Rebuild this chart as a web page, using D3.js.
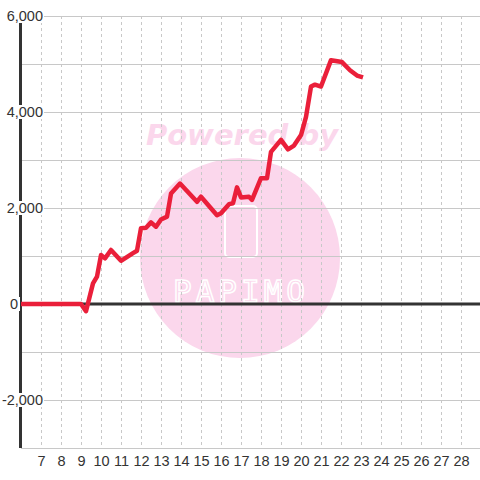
<!DOCTYPE html>
<html>
<head>
<meta charset="utf-8">
<script src="https://cdn.jsdelivr.net/npm/d3@7/dist/d3.min.js"></script>
<style>
  body { margin: 0; background: #fff; }
  text { font-family: "Liberation Sans", Arial, sans-serif; }
</style>
</head>
<body>
<div id="chart"></div>
<script>
var w = 480;
var h = 480;

// hours and cumulative values
var hours = [6, 9, 9.25, 9.6, 9.8, 10, 10.2, 10.5, 11, 11.6, 11.8, 12, 12.25, 12.5, 12.75, 13, 13.3, 13.5, 13.95,
             14.8, 15, 15.8, 16, 16.4, 16.6, 16.8, 17, 17.4, 17.55, 18, 18.3, 18.5, 19, 19.35, 19.65, 20, 20.25,
             20.5, 20.7, 21, 21.5, 22.05, 22.45, 22.8, 23.1];
var values = [0, 0, -150, 430, 570, 1020, 950, 1125, 900, 1060, 1110, 1580, 1590, 1700, 1610, 1760, 1820, 2300, 2510,
              2130, 2235, 1850, 1890, 2080, 2100, 2430, 2220, 2235, 2170, 2620, 2620, 3170, 3420, 3220, 3300, 3520, 3900,
              4530, 4570, 4530, 5080, 5040, 4870, 4760, 4720];

var xTicks = d3.range(7, 29);
var yGrid = d3.range(-3000, 6001, 1000);
var yLabels = [6000, 4000, 2000, 0, -2000];

var svg = d3.select('#chart')
            .append('svg')
            .attr('width', w)
            .attr('height', h);

var x = d3.scaleLinear().domain([6, 29]).range([21, 481]);
var y = d3.scaleLinear().domain([-3000, 6000]).range([448, 16]);

// watermark
var wm = svg.append('g');
wm.append('circle')
  .attr('cx', 240).attr('cy', 258).attr('r', 100)
  .style('fill', '#fbd7ec');
wm.append('text')
  .attr('x', 242).attr('y', 145)
  .attr('text-anchor', 'middle')
  .style('font-family', '"DejaVu Sans", sans-serif')
  .style('font-size', '29px')
  .style('font-weight', 'bold')
  .style('font-style', 'italic')
  .style('fill', '#fbd7ec')
  .text('Powered by');
wm.append('rect')
  .attr('x', 225).attr('y', 206).attr('width', 32).attr('height', 51).attr('rx', 4)
  .style('fill', 'none')
  .style('stroke', '#fff')
  .style('stroke-width', 2);
wm.append('text')
  .attr('x', 241).attr('y', 302)
  .attr('text-anchor', 'middle')
  .style('font-family', '"DejaVu Sans Mono", monospace')
  .style('font-size', '31px')
  .style('letter-spacing', '4px')
  .style('fill', 'none')
  .style('stroke', '#fff')
  .style('stroke-width', 1.5)
  .text('PAPIMO');

// grid
svg.append('g').selectAll('line')
   .data(xTicks)
   .enter()
   .append('line')
   .attr('x1', function(d) { return x(d) + 0.5; })
   .attr('x2', function(d) { return x(d) + 0.5; })
   .attr('y1', 16).attr('y2', 448)
   .style('stroke', '#c8c8c8')
   .style('stroke-dasharray', '3,3');

svg.append('g').selectAll('line')
   .data(yGrid)
   .enter()
   .append('line')
   .attr('x1', 21).attr('x2', w)
   .attr('y1', function(d) { return y(d) + 0.5; })
   .attr('y2', function(d) { return y(d) + 0.5; })
   .style('stroke', '#c8c8c8');

// axes
svg.append('line')
   .attr('x1', 20.5).attr('x2', 20.5)
   .attr('y1', y(6000)).attr('y2', y(-3000))
   .style('stroke', '#333')
   .style('stroke-width', 3);

svg.append('line')
   .attr('x1', 21).attr('x2', w)
   .attr('y1', y(0)).attr('y2', y(0))
   .style('stroke', '#333')
   .style('stroke-width', 3);

// y labels with white boxes behind
var fmt = function(d) { return d3.format(',')(d).replace('\u2212', '-'); };
var yl = svg.append('g').selectAll('g')
   .data(yLabels)
   .enter()
   .append('g')
   .attr('transform', function(d) { return 'translate(0,' + y(d) + ')'; });
yl.append('rect')
  .attr('x', function(d) { return d === 0 ? 4 : 0; })
  .attr('y', -7)
  .attr('width', function(d) { return d === 0 ? 16 : 44; })
  .attr('height', 14)
  .style('fill', '#fff');
yl.append('text')
  .attr('x', function(d) { return d === 0 ? 18 : 43; })
  .attr('dy', '0.35em')
  .attr('text-anchor', 'end')
  .style('font-size', '14.5px')
  .style('fill', '#333')
  .text(function(d) { return fmt(d); });

// x labels
svg.append('g').selectAll('text')
   .data(xTicks)
   .enter()
   .append('text')
   .attr('x', function(d) { return x(d) + 0.5; })
   .attr('y', 466)
   .attr('text-anchor', 'middle')
   .style('font-size', '14.5px')
   .style('fill', '#333')
   .text(function(d) { return d; });

// line
var line = d3.line()
             .x(function(d, i) { return x(hours[i]); })
             .y(function(d) { return y(d); });

svg.append('path')
   .datum(values)
   .attr('d', line)
   .style('fill', 'none')
   .style('stroke', '#ea1f3a')
   .style('stroke-width', 4.5)
   .style('stroke-linejoin', 'round');
</script>
</body>
</html>
